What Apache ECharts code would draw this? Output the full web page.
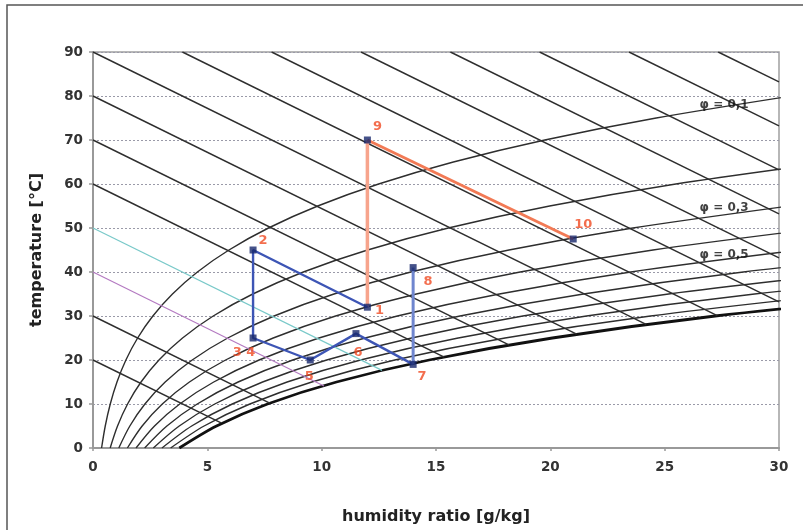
<!DOCTYPE html>
<html><head><meta charset="utf-8">
<script src="https://cdn.jsdelivr.net/npm/echarts@6/dist/echarts.min.js"></script>
<style>html,body{margin:0;padding:0;background:#fff}#c{width:803px;height:530px}</style>
</head><body><div id="c"></div>
<script>
// ---- axes ----
const xTicks = [0, 5, 10, 15, 20, 25, 30];
const yTicks = [0, 10, 20, 30, 40, 50, 60, 70, 80, 90];

// ---- relative humidity curves: humidity ratio [g/kg] at each temperature step ----
const rhTemps = [0, 5, 10, 15, 20, 25, 30, 35, 40, 45, 50, 55, 60, 65, 70, 75, 80];
const rh10  = [0.375, 0.536, 0.755, 1.049, 1.439, 1.952, 2.618, 3.475, 4.566, 5.946, 7.675, 9.828, 12.49, 15.76, 19.76, 24.63, 30.53];
const rh20  = [0.751, 1.073, 1.512, 2.101, 2.885, 3.916, 5.258, 6.988, 9.200, 12.01, 15.54, 19.97, 25.49, 32.34];
const rh30  = [1.128, 1.611, 2.270, 3.157, 4.338, 5.893, 7.920, 10.54, 13.90, 18.19, 23.61, 30.45];
const rh40  = [1.504, 2.150, 3.031, 4.217, 5.798, 7.882, 10.61, 14.14, 18.68, 24.49, 31.88];
const rh50  = [1.882, 2.690, 3.793, 5.280, 7.264, 9.883, 13.31, 17.77, 23.52, 30.91];
const rh60  = [2.259, 3.231, 4.557, 6.347, 8.737, 11.90, 16.05, 21.45, 28.44, 37.47];
const rh70  = [2.638, 3.772, 5.323, 7.417, 10.22, 13.93, 18.80, 25.17, 33.44];
const rh80  = [3.016, 4.315, 6.091, 8.491, 11.70, 15.97, 21.58, 28.93, 38.51];
const rh90  = [3.395, 4.859, 6.860, 9.569, 13.20, 18.02, 24.38, 32.73];
const rh100 = [3.775, 5.403, 7.632, 10.65, 14.70, 20.09, 27.21, 36.58];

// ---- curve labels ----
const rhLabelText = ['φ = 0,1', 'φ = 0,3', 'φ = 0,5'];
const rhLabelX = [27.6, 27.6, 27.6];
const rhLabelT = [77.9, 54.5, 43.9];

// ---- enthalpy lines: start and end [x, T] ----
const enthalpyStart = [[0,20],[0,30],[0,40],[0,50],[0,60],[0,70],[0,80],[0,90],[3.91,90],[7.81,90],[11.72,90],[15.63,90],[19.53,90],[23.44,90],[27.34,90]];
const enthalpyEnd   = [[5.6,5.7],[7.73,10.2],[10.1,14.1],[12.64,17.64],[15.36,20.68],[18.19,23.43],[21.15,25.86],[24.19,28.07],[27.3,30.1],[30,33.2],[30,43.2],[30,53.2],[30,63.2],[30,73.2],[30,83.2]];

// ---- process points ----
const pointNames = ['1', '2', '3 4', '5', '6', '7', '8', '9', '10'];
const pointX = [12, 7, 7, 9.5, 11.5, 14, 14, 12, 21];
const pointT = [32, 45, 25, 20, 26, 19, 41, 70, 47.5];
const bluePath = [0, 1, 2, 3, 4, 5];
const bluePath2 = [5, 6];
const orangeUp = [0, 7];
const orangeDown = [7, 8];

const FONT = 'DejaVu Sans';
const pt = i => [pointX[i], pointT[i]];

const rhSets = [rh10, rh20, rh30, rh40, rh50, rh60, rh70, rh80, rh90, rh100];
const series = [];
rhSets.forEach((arr, k) => {
  series.push({
    type: 'line', silent: true, showSymbol: false, smooth: 0.3, z: 2,
    data: arr.map((x, i) => [x, rhTemps[i]]),
    lineStyle: { color: k === 9 ? '#111' : '#2e2e2e', width: k === 9 ? 2.8 : 1.4 }
  });
});
const enthColors = { 2: '#b47ac2', 3: '#79c9c9' };
enthalpyStart.forEach((s, i) => {
  series.push({
    type: 'line', silent: true, showSymbol: false, z: 2,
    data: [s, enthalpyEnd[i]],
    lineStyle: { color: enthColors[i] || '#2e2e2e', width: enthColors[i] ? 1.2 : 1.4 }
  });
});
series.push({ type: 'line', silent: true, showSymbol: false, z: 3, data: orangeUp.map(pt), lineStyle: { color: '#f7a48c', width: 3.5 } });
series.push({ type: 'line', silent: true, showSymbol: false, z: 3, data: orangeDown.map(pt), lineStyle: { color: '#f27a55', width: 3 } });
series.push({ type: 'line', silent: true, showSymbol: false, z: 3, data: bluePath.map(pt), lineStyle: { color: '#3d55b5', width: 2.4 } });
series.push({ type: 'line', silent: true, showSymbol: false, z: 3, data: bluePath2.map(pt), lineStyle: { color: '#6f86cf', width: 3 } });

const labelOffsets = { '1': [12, 3], '2': [10, -9], '3 4': [-9, 15], '5': [-1, 17], '6': [2, 19], '7': [9, 12], '8': [15, 14], '9': [10, -13], '10': [10, -14] };
series.push({
  type: 'scatter', silent: true, z: 5, symbol: 'rect', symbolSize: 7,
  itemStyle: { color: '#16276b' },
  data: pointNames.map((n, i) => ({
    value: pt(i), name: n,
    label: { show: true, position: 'inside', offset: labelOffsets[n], formatter: n,
      color: '#f04a22', fontWeight: 'bold', fontSize: 13, fontFamily: FONT }
  }))
});
series.push({
  type: 'scatter', silent: true, z: 6, symbolSize: 0,
  data: rhLabelText.map((t, i) => ({
    value: [rhLabelX[i], rhLabelT[i]],
    label: { show: true, position: 'inside', formatter: t, color: '#111', fontWeight: 'bold', fontSize: 12, fontFamily: FONT }
  }))
});

const chart = echarts.init(document.getElementById('c'), null, { renderer: 'canvas' });
chart.setOption({
  animation: false,
  backgroundColor: '#fff',
  graphic: [{ type: 'rect', shape: { x: 7, y: 5, width: 900, height: 600 }, style: { fill: 'none', stroke: '#555', lineWidth: 1.5 }, silent: true }],
  grid: { left: 93, top: 52, width: 686, height: 397, show: true, borderColor: '#a0a0a0', borderWidth: 1.5, backgroundColor: 'transparent' },
  xAxis: {
    type: 'value', min: xTicks[0], max: xTicks[xTicks.length - 1], interval: xTicks[1] - xTicks[0],
    name: 'humidity ratio [g/kg]', nameLocation: 'middle', nameGap: 61,
    nameTextStyle: { fontFamily: FONT, fontWeight: 'bold', fontSize: 16, color: '#222' },
    axisLine: { lineStyle: { color: '#999', width: 2 } },
    axisTick: { show: true, length: 3, lineStyle: { color: '#999', width: 1.5 } },
    axisLabel: { margin: 12, fontFamily: FONT, fontWeight: 'bold', fontSize: 13.5, color: '#333' },
    splitLine: { show: false }
  },
  yAxis: {
    type: 'value', min: yTicks[0], max: yTicks[yTicks.length - 1], interval: yTicks[1] - yTicks[0],
    name: 'temperature [°C]', nameLocation: 'middle', nameGap: 48,
    nameTextStyle: { fontFamily: FONT, fontWeight: 'bold', fontSize: 16, color: '#222' },
    axisLine: { show: true, lineStyle: { color: '#999', width: 2 } },
    axisTick: { show: true, length: 4, lineStyle: { color: '#999', width: 1.5 } },
    axisLabel: { margin: 10, fontFamily: FONT, fontWeight: 'bold', fontSize: 13.5, color: '#333' },
    splitLine: { show: true, lineStyle: { color: '#9a9aa8', width: 1, type: [2, 2] } }
  },
  series: series
});
</script></body></html>
